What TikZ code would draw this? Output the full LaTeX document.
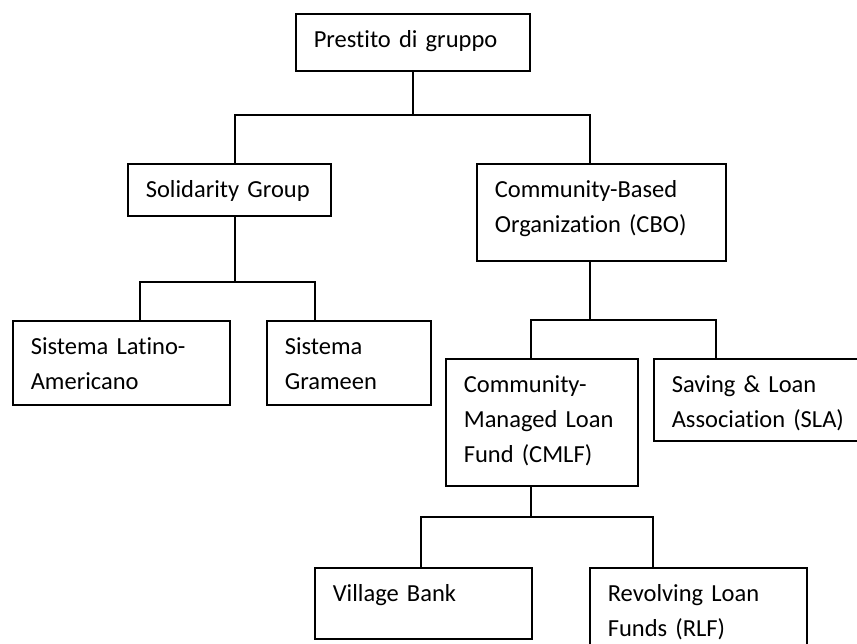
\documentclass[tikz,border=0pt]{standalone}
\usepackage{fontspec}
\setmainfont{Carlito}[Ligatures=NoCommon]

\begin{document}
\begin{tikzpicture}[x=1pt, y=-1pt,
  box/.style={draw, line width=1.6pt, anchor=north west,
    inner xsep=18pt, inner ysep=0pt, text height=34pt,
    font=\fontsize{24.5}{35}\selectfont},
  link/.style={line width=2.2pt}]
  \useasboundingbox (0,0) rectangle (857,643);

  % riquadri
  \node[box, text width=198pt, text depth=23pt] (pg) at (295,13) {Prestito di gruppo};
  \node[box, text width=167pt, text depth=18pt] (sg) at (127,163) {Solidarity Group};
  \node[box, text width=213pt, text depth=63pt] (cbo) at (476,163) {Community-Based\\Organization (CBO)};
  \node[box, text width=181pt, text depth=50pt] (sla) at (12,320) {Sistema Latino-\\Americano};
  \node[box, text width=128pt, text depth=50pt] (sgr) at (266,320) {Sistema\\Grameen};
  \node[box, text width=156pt, text depth=93pt] (cmlf) at (445,358) {Community-\\Managed Loan\\Fund (CMLF)};
  \node[box, text width=179pt, text depth=48pt] (slaa) at (653,358) {Saving \& Loan\\Association (SLA)};
  \node[box, text width=181pt, text depth=37pt] (vb) at (314,567) {Village Bank};
  \node[box, text width=181pt, text depth=66pt] (rlf) at (589,567) {Revolving Loan\\Funds (RLF)};

  % barre di raccordo
  \coordinate (b1l) at (235,115);
  \coordinate (b1r) at (590,115);
  \coordinate (b2l) at (140,282);
  \coordinate (b2r) at (315,282);
  \coordinate (b3l) at (531,320);
  \coordinate (b3r) at (716,320);
  \coordinate (b4l) at (421,517);
  \coordinate (b4r) at (653,517);

  \draw[link] (pg.south) -- (pg.south |- b1l);
  \draw[link] (sg.north -| b1l) -- (b1l) -- (b1r) -- (cbo.north -| b1r);

  \draw[link] (sg.south -| b1l) -- (b1l |- b2l);
  \draw[link] (sla.north -| b2l) -- (b2l) -- (b2r) -- (sgr.north -| b2r);

  \draw[link] (cbo.south -| b1r) -- (b1r |- b3l);
  \draw[link] (cmlf.north -| b3l) -- (b3l) -- (b3r) -- (slaa.north -| b3r);

  \draw[link] (cmlf.south -| b3l) -- (b3l |- b4l);
  \draw[link] (vb.north -| b4l) -- (b4l) -- (b4r) -- (rlf.north -| b4r);
\end{tikzpicture}
\end{document}
